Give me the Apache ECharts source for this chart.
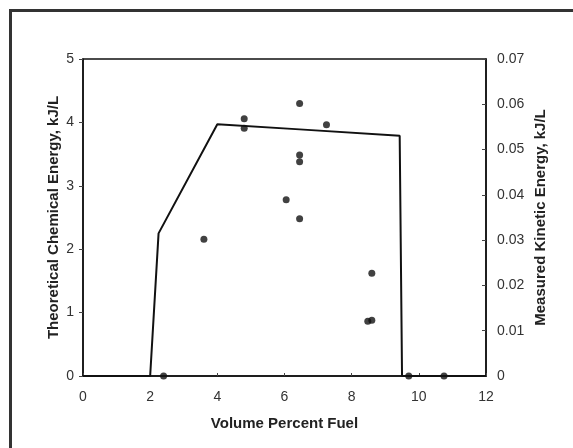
<!DOCTYPE html>
<html>
<head>
<meta charset="utf-8">
<script src="https://cdn.jsdelivr.net/npm/echarts@6/dist/echarts.min.js"></script>
<style>
  html, body { margin: 0; padding: 0; background: #fff; }
  #main { width: 573px; height: 448px; }
</style>
</head>
<body>
<div id="main"></div>
<script>
// theoretical chemical energy (left axis), piecewise line
var theoryX = [0, 2.0, 2.25, 4.0, 6.45, 9.43, 9.5, 12];
var theoryY = [0, 0, 2.25, 3.97, 3.89, 3.79, 0, 0];

// measured kinetic energy (right axis)
var measuredX = [2.4, 3.6, 4.8, 4.8, 6.05, 6.45, 6.45, 6.45, 6.45, 7.25, 8.48, 8.6, 8.6, 9.7, 10.75];
var measuredY = [0, 0.0302, 0.0568, 0.0547, 0.0389, 0.0602, 0.0488, 0.0473, 0.0347, 0.0555, 0.0121, 0.0123, 0.0227, 0, 0];

var theoryData = theoryX.map(function (x, i) { return [x, theoryY[i]]; });
var measuredData = measuredX.map(function (x, i) { return [x, measuredY[i]]; });

var chart = echarts.init(document.getElementById('main'));
var labelFont = { color: '#333', fontSize: 14, fontFamily: 'Liberation Sans' };
var nameFont = { color: '#222', fontSize: 15, fontWeight: 'bold', fontFamily: 'Liberation Sans' };

var option = {
  animation: false,
  graphic: [{
    type: 'rect',
    shape: { x: 10.5, y: 10.5, width: 700, height: 600 },
    style: { fill: 'none', stroke: '#333', lineWidth: 3 }
  }],
  grid: {
    left: 83, top: 59, width: 403, height: 317,
    show: true, borderColor: '#111', borderWidth: 1.5, backgroundColor: 'transparent'
  },
  xAxis: {
    type: 'value', min: 0, max: 12, interval: 2,
    name: 'Volume Percent Fuel', nameLocation: 'middle', nameGap: 40, nameMoveOverlap: false,
    nameTextStyle: nameFont,
    axisLine: { show: true, lineStyle: { color: '#111', width: 1.5 } },
    axisTick: { show: true, inside: true, length: 3, lineStyle: { color: '#444' } },
    axisLabel: Object.assign({ margin: 14 }, labelFont),
    splitLine: { show: false }
  },
  yAxis: [{
    type: 'value', min: 0, max: 5, interval: 1, position: 'left',
    name: 'Theoretical Chemical Energy, kJ/L', nameLocation: 'middle', nameGap: 22, nameRotate: 90,
    nameMoveOverlap: false,
    nameTextStyle: nameFont,
    axisLine: { show: true, lineStyle: { color: '#111', width: 1.5 } },
    axisTick: { show: true, length: 4, lineStyle: { color: '#444' } },
    axisLabel: Object.assign({ margin: 9 }, labelFont),
    splitLine: { show: false }
  }, {
    type: 'value', min: 0, max: 0.07, interval: 0.01, position: 'right',
    name: 'Measured Kinetic Energy, kJ/L', nameLocation: 'middle', nameGap: 47, nameRotate: 90,
    nameMoveOverlap: false,
    nameTextStyle: nameFont,
    axisLine: { show: true, lineStyle: { color: '#111', width: 1.5 } },
    axisTick: { show: true, inside: true, length: 4, lineStyle: { color: '#444' } },
    axisLabel: Object.assign({ margin: 11, formatter: function (v) { return v === 0 ? '0' : v.toFixed(2); } }, labelFont),
    splitLine: { show: false }
  }],
  series: [{
    name: 'Theoretical',
    type: 'line',
    yAxisIndex: 0,
    data: theoryData,
    showSymbol: false,
    lineStyle: { color: '#111', width: 2 }
  }, {
    name: 'Measured',
    type: 'scatter',
    yAxisIndex: 1,
    data: measuredData,
    symbol: 'circle',
    symbolSize: 7,
    itemStyle: { color: '#111' }
  }]
};

option && chart.setOption(option);
</script>
</body>
</html>
